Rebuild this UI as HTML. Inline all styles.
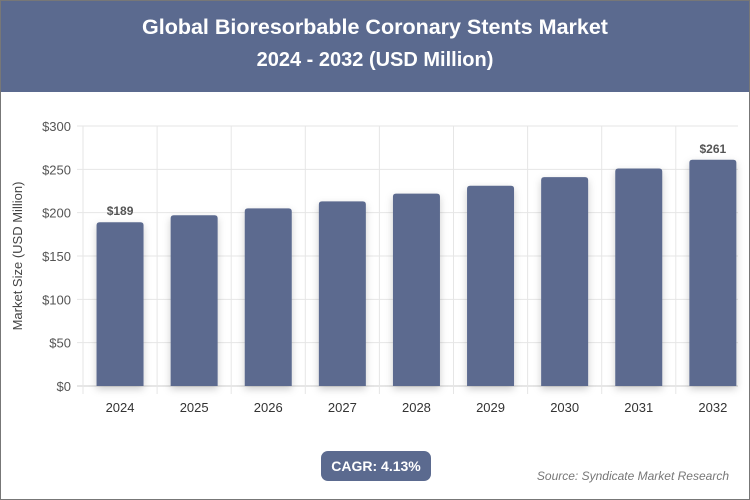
<!DOCTYPE html>
<html><head><meta charset="utf-8"><style>
body{margin:0;width:750px;height:500px;overflow:hidden;font-family:"Liberation Sans",Arial,sans-serif;background:#fff}
#wrap{position:absolute;left:0;top:0;width:748px;height:498px;border:1px solid #777;background:#fff}
#hdr{position:absolute;left:0;top:0;width:748px;height:91px;background:#5b6a8f;color:#fff;text-align:center;font-weight:bold}
#t1{position:absolute;top:14px;width:100%;font-size:21.5px}
#t2{position:absolute;top:48px;width:100%;font-size:20px}
#cagr{position:absolute;left:320px;top:450px;width:110px;height:30px;background:#5b6a8f;border-radius:7px;color:#fff;font-weight:bold;font-size:14px;line-height:30px;text-align:center}
#src{position:absolute;right:20px;top:468px;font-size:12px;font-style:italic;color:#777}
</style></head><body>
<div id="wrap">
<div id="hdr">
<div id="t1">Global Bioresorbable Coronary Stents Market</div>
<div id="t2">2024 - 2032 (USD Million)</div>
</div>
<svg id="svg" width="750" height="500" style="position:absolute;left:-1px;top:-1px">
<defs><filter id="sh" x="-30%" y="-10%" width="160%" height="130%"><feDropShadow dx="0" dy="3" stdDeviation="4" flood-color="#000" flood-opacity="0.2"/></filter></defs>
<g id="g"></g>
</svg>
<div id="cagr">CAGR: 4.13%</div>
<div id="src">Source: Syndicate Market Research</div>
</div>
<script>
const categories=["2024","2025","2026","2027","2028","2029","2030","2031","2032"];
const values=[189,197,205,213,222,231,241,251,261];
const yTicks=[0,50,100,150,200,250,300];
const labeledIdx=[0,8];
const L=83,R=738,T=126,B=386,yMax=300;
const ns="http://www.w3.org/2000/svg",g=document.getElementById('g');
const y=v=>B-(v/yMax)*(B-T);
const bw=74.1;
const x=i=>L+bw*i;
function mk(t,a){const e=document.createElementNS(ns,t);for(const k in a)e.setAttribute(k,a[k]);g.appendChild(e);return e;}
yTicks.forEach(v=>{
 const l=mk('line',{x1:L-6,x2:R,y1:y(v),y2:y(v),stroke:v===0?'#ccc':'#e6e6e6'});
 
 
 const t=mk('text',{x:L-12,y:y(v)+5,'text-anchor':'end','font-size':13,fill:'#555'});t.textContent='$'+v;
 
 
});
for(let i=0;i<categories.length;i++){
 const l=mk('line',{x1:x(i),x2:x(i),y1:T,y2:B+8,stroke:'#e6e6e6'});
 
 
}
categories.forEach((c,i)=>{
 const w=47,cx=x(i)+bw/2,top=y(values[i]);
 const p=mk('path',{d:`M${cx-w/2},${B} V${top+3} Q${cx-w/2},${top} ${cx-w/2+3},${top} H${cx+w/2-3} Q${cx+w/2},${top} ${cx+w/2},${top+3} V${B} Z`,fill:'#5b6a8f',filter:'url(#sh)'});
 
 
 const t=mk('text',{x:cx,y:B+26,'text-anchor':'middle','font-size':13,fill:'#333'});t.textContent=c;
 
 
 if(labeledIdx.includes(i)){
  const v=mk('text',{x:cx,y:top-7,'text-anchor':'middle','font-size':12,'font-weight':'bold',fill:'#555'});v.textContent='$'+values[i];
  
  
 }
});
const at=mk('text',{transform:`translate(22,${(T+B)/2}) rotate(-90)`,'text-anchor':'middle','font-size':13,fill:'#444'});
at.textContent='Market Size (USD Million)';


</script>
</body></html>
